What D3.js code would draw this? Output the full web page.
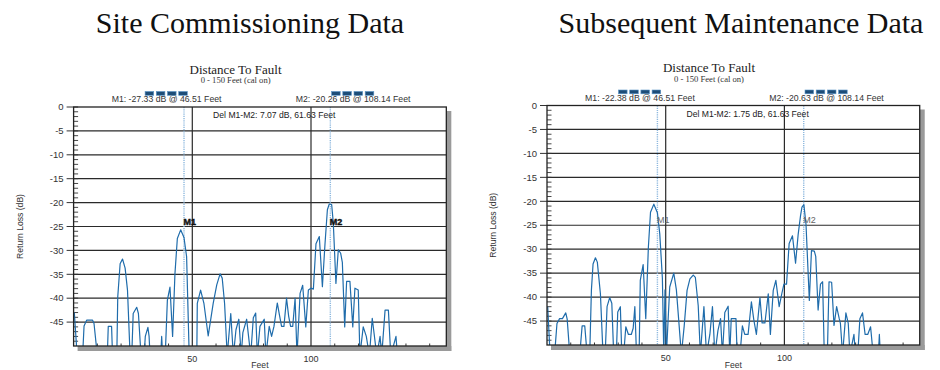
<!DOCTYPE html>
<html>
<head>
<meta charset="utf-8">
<script src="https://cdn.jsdelivr.net/npm/d3@7"></script>
<style>
  body { margin: 0; background: #fff; }
  svg { display: block; }
</style>
</head>
<body>
<svg id="chart" width="940" height="370"></svg>
<script>
// Distance-to-fault traces
// values below -50 dB run off the bottom of the plot (clipped)
const siteFeet = [0.3, 1.5, 3.8, 4.4, 5.5, 8.0, 8.6, 10.0, 14.2, 14.6, 16.0, 16.4,
  18.2, 18.6, 19.6, 20.6, 21.7, 22.7, 23.8, 24.5, 25.1, 26.6, 27.3, 28.4,
  29.7, 30.2, 31.3, 31.8, 32.2, 36.7, 37.1, 37.5,
  38.6, 39.5, 40.6, 41.7, 42.7, 43.7, 45.1, 46.5, 47.6, 48.7,
  51.9, 52.1, 53.5, 54.9, 56.7, 58.8, 60.3, 61.7, 62.6, 63.6, 64.7,
  66.2, 67.3, 68.4, 69.6, 70.6, 71.3, 72.9, 73.7, 74.6, 75.7, 76.7, 77.4,
  78.5, 80.3, 81.0, 82.4, 83.4, 84.4, 85.8, 86.7, 87.6, 88.6, 89.7, 90.6,
  91.4, 92.3, 93.3, 94.1, 95.4, 96.5, 97.8, 98.9, 100.0, 101.0, 102.1, 103.5,
  104.8, 105.9, 106.9, 107.7, 108.7, 109.4, 110.5, 111.5, 112.5, 113.2, 114.2,
  115.0, 116.4, 117.6, 118.5, 119.9, 120.6, 122.0, 123.3, 124.6, 125.8, 126.6,
  127.7, 129.1, 129.8, 131.2, 132.6, 133.6, 135.8, 136.4, 157];
const siteDb = [-43.0, -52, -52, -45.8, -44.6, -44.6, -45.3, -52, -52, -45.9, -45.9, -52,
  -52, -39.7, -32.8, -31.8, -33.7, -38.3, -52, -52, -43.2, -41.9, -43.2, -52,
  -52, -48.0, -46.1, -48.0, -52, -52, -48.0, -52,
  -52, -40.4, -37.7, -48.0, -34.8, -27.5, -25.7, -27.3, -31.3, -52,
  -52, -41.1, -38.3, -41.1, -47.9, -41.1, -37.2, -34.9, -35.8, -41.1, -52,
  -43.2, -52, -46.6, -44.4, -52, -47.2, -44.4, -48.0, -52, -44.1, -43.1, -52,
  -45.9, -44.4, -52, -45.9, -48.0, -45.9, -41.0, -43.5, -45.9, -45.9, -40.0, -43.8,
  -45.9, -45.9, -40.0, -52, -39.0, -37.3, -46.0, -38.3, -37.9, -38.1, -28.6, -27.1,
  -37.6, -28.6, -21.5, -20.3, -20.4, -24.3, -36.9, -29.9, -30.6, -32.5, -46.0,
  -36.5, -36.5, -46.0, -37.9, -38.3, -52, -46.0, -48.0, -52, -44.2, -47.5,
  -52, -48.0, -52, -42.5, -42.5, -52, -48.0, -52, -52];

const maintFeet = [0.3, 1.3, 3.2, 4.2, 5.3, 6.5, 7.9, 8.5, 9.6, 13.8, 14.8, 15.9, 16.9,
  18.0, 18.7, 19.4, 20.4, 21.2, 22.5, 23.6, 24.5, 25.3, 26.4, 27.3, 28.1,
  29.2, 29.8, 30.9, 31.5, 32.3, 33.2, 34.3, 35.5, 36.3, 37.0, 37.7,
  38.8, 39.3, 40.5, 41.6, 42.7, 43.6, 45.0, 46.5, 47.5, 48.6, 49.2, 49.7, 50.3,
  51.7, 53.4, 54.5, 56.6, 57.8, 59.0, 60.2, 61.6, 62.5, 63.7, 64.6,
  66.1, 67.2, 68.6, 69.7, 70.7, 72.0, 73.1, 73.9, 74.9, 76.3, 77.0, 77.6, 79.6, 80.1,
  81.3, 82.3, 83.3, 84.7, 86.1, 87.1, 88.2, 89.7, 90.6, 91.8, 93.2, 94.1,
  95.3, 96.4, 97.8, 98.9, 99.8, 100.9, 102.0, 103.4, 104.7, 105.8, 106.8, 107.4,
  108.2, 109.1, 110.5, 111.4, 112.6, 113.2, 114.2, 115.2, 116.1, 116.8, 118.1,
  118.8, 119.9, 120.9, 122.0, 123.1, 123.6, 124.5, 125.9, 126.9, 127.6, 129.3,
  129.9, 130.9, 131.8, 132.9, 134.0, 135.1, 136.3, 137.4, 139.6, 140.0, 140.4, 157];
const maintDb = [-42.0, -52, -52, -45.5, -44.5, -44.5, -43.3, -44.6, -52, -52, -46.0, -46.0, -52,
  -52, -38.6, -33.1, -31.8, -32.7, -39.3, -52, -52, -42.0, -40.1, -41.3, -52,
  -52, -43.1, -42.0, -52, -52, -46.2, -47.8, -47.8, -46.5, -42.0, -52,
  -52, -36.5, -33.2, -44.5, -29.6, -22.3, -20.6, -22.4, -26.8, -36.0, -52, -38.5, -52,
  -37.9, -35.0, -38.5, -52, -46.0, -38.6, -36.2, -35.4, -35.9, -41.8, -52,
  -42.0, -52, -47.8, -42.0, -52, -47.0, -44.5, -52, -43.2, -41.9, -52, -44.5, -44.5, -52,
  -52, -46.0, -47.8, -47.8, -41.0, -44.7, -47.8, -40.1, -45.4, -45.4, -39.3, -47.8,
  -38.6, -36.5, -42.0, -39.3, -37.3, -37.3, -28.8, -27.2, -32.9, -26.9, -23.0, -21.2,
  -20.7, -24.8, -40.7, -30.3, -30.4, -31.5, -42.7, -37.3, -36.8, -52, -52,
  -36.8, -36.9, -45.9, -42.0, -44.5, -45.5, -52, -43.3, -45.5, -52, -47.8,
  -52, -52, -44.5, -43.3, -47.8, -47.8, -46.2, -52, -52, -47.8, -52, -52];

// marker readouts
const markerNames = ["M1", "M2"];
const markerFeet = [46.51, 108.14];
const siteMarkerDb = [-27.33, -20.26];
const maintMarkerDb = [-22.38, -20.63];

// axis ticks
const yTicks = [0, -5, -10, -15, -20, -25, -30, -35, -40, -45];
const xTicks = [50, 100];
const xMinorTicks = [10, 20, 30, 40, 60, 70, 80, 90, 110, 120, 130, 140, 150];

const svg = d3.select("#chart");

const panels = [
  { heading: "Site Commissioning Data", headX: 250, left: 73.6, top: 107, bottom: 346,
    feet: siteFeet, db: siteDb, markerDb: siteMarkerDb, boldLabels: true },
  { heading: "Subsequent Maintenance Data", headX: 741, left: 547, top: 105.5, bottom: 345,
    feet: maintFeet, db: maintDb, markerDb: maintMarkerDb, boldLabels: false }
];

const sans = "'Liberation Sans', Arial, sans-serif";
const serif = "'Liberation Serif', 'Times New Roman', serif";

panels.forEach((p, pi) => {
  const x = d3.scaleLinear().domain([0, 157]).range([p.left, p.left + 157 * 2.374]);
  const y = d3.scaleLinear().domain([0, -50]).range([p.top, p.bottom]);
  const right = x(157);
  const g = svg.append("g");

  // big heading
  g.append("text")
    .attr("x", p.headX).attr("y", 33)
    .attr("text-anchor", "middle")
    .attr("font-family", serif).attr("font-size", "30px").attr("fill", "#111")
    .text(p.heading);

  // chart title + subtitle
  const cx = p.left + 162;
  g.append("text")
    .attr("x", cx).attr("y", p.top - 33.5)
    .attr("text-anchor", "middle")
    .attr("font-family", serif).attr("font-size", "13px").attr("fill", "#222")
    .text("Distance To Fault");
  g.append("text")
    .attr("x", cx).attr("y", p.top - 24)
    .attr("text-anchor", "middle")
    .attr("font-family", serif).attr("font-size", "8.6px").attr("fill", "#333")
    .text("0 - 150 Feet (cal on)");

  // drop shadow of the plot frame
  g.append("rect")
    .attr("x", right).attr("y", p.top + 4)
    .attr("width", 5).attr("height", p.bottom - p.top + 1)
    .attr("fill", "#9a9a9a");
  g.append("rect")
    .attr("x", p.left + 4).attr("y", p.bottom)
    .attr("width", right - p.left + 1).attr("height", 5)
    .attr("fill", "#9a9a9a");
  g.append("rect")
    .attr("x", p.left).attr("y", p.top)
    .attr("width", right - p.left).attr("height", p.bottom - p.top)
    .attr("fill", "#fff");

  // horizontal grid
  g.selectAll(".hgrid")
    .data(yTicks.filter(d => d !== 0))
    .enter().append("line")
    .attr("x1", p.left).attr("x2", right)
    .attr("y1", d => y(d)).attr("y2", d => y(d))
    .attr("stroke", "#2a2a2a").attr("stroke-width", 1.2);

  // vertical grid at 50 / 100
  g.selectAll(".vgrid")
    .data(xTicks)
    .enter().append("line")
    .attr("x1", d => x(d)).attr("x2", d => x(d))
    .attr("y1", p.top).attr("y2", p.bottom)
    .attr("stroke", "#2a2a2a").attr("stroke-width", 1.2);

  // minor y ticks every 1 dB, inside the plot
  g.selectAll(".ymin")
    .data(d3.range(0, -50, -1))
    .enter().append("line")
    .attr("x1", p.left).attr("x2", p.left + 4.5)
    .attr("y1", d => y(d)).attr("y2", d => y(d))
    .attr("stroke", "#333").attr("stroke-width", 0.9);

  // minor x ticks along the bottom
  g.selectAll(".xmin")
    .data(xMinorTicks)
    .enter().append("line")
    .attr("x1", d => x(d)).attr("x2", d => x(d))
    .attr("y1", p.bottom).attr("y2", p.bottom - 2.5)
    .attr("stroke", "#333").attr("stroke-width", 1);

  // y tick labels with outside ticks
  g.selectAll(".ytick")
    .data(yTicks)
    .enter().append("line")
    .attr("x1", p.left - 7).attr("x2", p.left)
    .attr("y1", d => y(d)).attr("y2", d => y(d))
    .attr("stroke", "#333").attr("stroke-width", 1);
  g.selectAll(".ylab")
    .data(yTicks)
    .enter().append("text")
    .attr("x", p.left - 10).attr("y", d => y(d) + 3.2)
    .attr("text-anchor", "end")
    .attr("font-family", sans).attr("font-size", "9.5px").attr("fill", "#333")
    .text(d => d);

  // x tick labels
  g.selectAll(".xlab")
    .data(xTicks)
    .enter().append("text")
    .attr("x", d => x(d)).attr("y", p.bottom + 16)
    .attr("text-anchor", "middle")
    .attr("font-family", sans).attr("font-size", "9px").attr("fill", "#333")
    .text(d => d);

  // axis titles
  g.append("text")
    .attr("transform", `translate(${p.left - 51}, ${(p.top + p.bottom) / 2}) rotate(-90)`)
    .attr("text-anchor", "middle")
    .attr("font-family", sans).attr("font-size", "8.6px").attr("fill", "#333")
    .text("Return Loss (dB)");
  g.append("text")
    .attr("x", (p.left + right) / 2).attr("y", 368)
    .attr("text-anchor", "middle")
    .attr("font-family", sans).attr("font-size", "8.6px").attr("fill", "#333")
    .text("Feet");

  // marker lines
  g.selectAll(".mline")
    .data(markerFeet)
    .enter().append("line")
    .attr("x1", d => x(d)).attr("x2", d => x(d))
    .attr("y1", p.top).attr("y2", p.bottom)
    .attr("stroke", "#8db8de").attr("stroke-width", 1.4)
    .attr("stroke-dasharray", "1.2,1");

  // trace
  const clipId = "clip" + pi;
  svg.append("clipPath").attr("id", clipId)
    .append("rect")
    .attr("x", p.left).attr("y", p.top)
    .attr("width", right - p.left).attr("height", p.bottom - p.top);
  const line = d3.line()
    .x((d, i) => x(p.feet[i]))
    .y(d => y(d));
  g.append("path")
    .datum(p.db)
    .attr("clip-path", `url(#${clipId})`)
    .attr("d", line)
    .attr("fill", "none")
    .attr("stroke", "#1f6cab")
    .attr("stroke-width", 1.2)
    .attr("stroke-linejoin", "round");

  // in-plot marker labels
  g.selectAll(".mlab")
    .data(markerFeet)
    .enter().append("text")
    .attr("x", d => x(d) - 0.5).attr("y", y(-24.6))
    .attr("font-family", sans).attr("font-size", "9px")
    .attr("font-weight", p.boldLabels ? "bold" : "normal")
    .attr("fill", p.boldLabels ? "#111" : "#666")
    .attr("stroke", p.boldLabels ? "#111" : "none")
    .attr("stroke-width", 0.4)
    .text((d, i) => markerNames[i]);

  // frame (left axis, top, right, bottom)
  g.append("rect")
    .attr("x", p.left).attr("y", p.top)
    .attr("width", right - p.left).attr("height", p.bottom - p.top)
    .attr("fill", "none").attr("stroke", "#222").attr("stroke-width", 1.3);

  // marker readouts above the plot
  const readX = [p.left + 93, p.left + 279.5];
  markerFeet.forEach((f, i) => {
    g.append("text")
      .attr("x", readX[i]).attr("y", p.top - 4.8)
      .attr("text-anchor", "middle")
      .attr("font-family", sans).attr("font-size", "8.7px").attr("fill", "#333")
      .text(`${markerNames[i]}: ${p.markerDb[i].toFixed(2)} dB @ ${f.toFixed(2)} Feet`);
    g.selectAll(null)
      .data(d3.range(4))
      .enter().append("rect")
      .attr("x", k => readX[i] - 21.5 + k * 11.2)
      .attr("y", p.top - 15.5)
      .attr("width", 8.6).attr("height", 3.8)
      .attr("fill", "#1d4d78")
      .attr("stroke", "#5a95c8").attr("stroke-width", 0.6);
  });

  // delta readout
  const dDb = Math.abs(p.markerDb[0] - p.markerDb[1]);
  const dFt = markerFeet[1] - markerFeet[0];
  g.append("text")
    .attr("x", p.left + 139.5).attr("y", p.top + 11)
    .attr("font-family", sans).attr("font-size", "8.6px").attr("fill", "#222")
    .text(`Del M1-M2: ${dDb.toFixed(2)} dB, ${dFt.toFixed(2)} Feet`);
});
</script>
</body>
</html>
